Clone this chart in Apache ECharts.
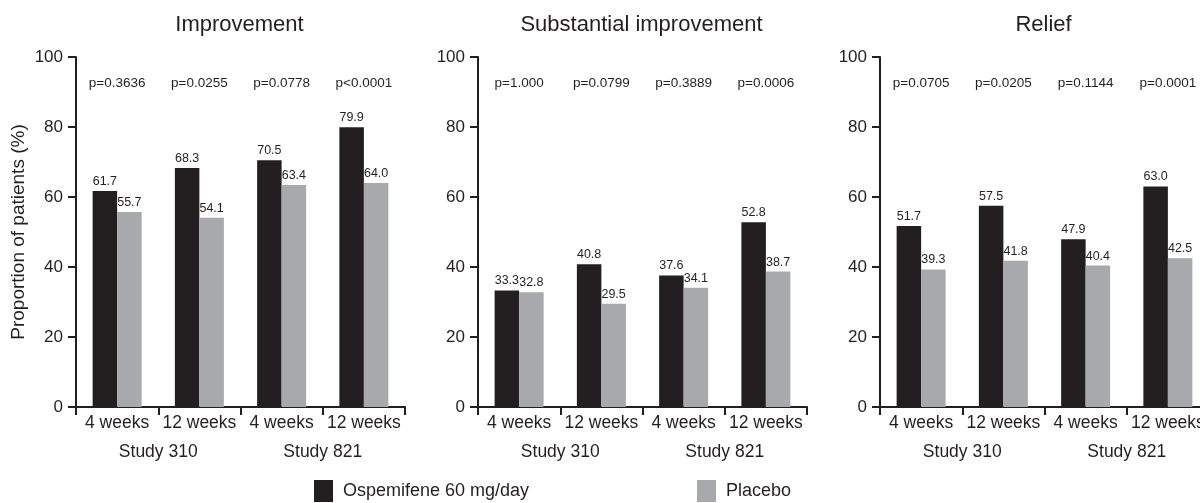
<!DOCTYPE html>
<html>
<head>
<meta charset="utf-8">
<script src="https://cdn.jsdelivr.net/npm/echarts@6/dist/echarts.min.js"></script>
<style>
html,body{margin:0;padding:0;background:#fff;overflow:hidden;}
#chart{width:1215px;height:503px;}
</style>
</head>
<body>
<div id="chart"></div>
<script>
// ---- data ----
const categories = ['4 weeks', '12 weeks', '4 weeks', '12 weeks'];
const studies = ['Study 310', 'Study 821'];
const panelTitles = ['Improvement', 'Substantial improvement', 'Relief'];
const seriesNames = ['Ospemifene 60 mg/day', 'Placebo'];
const ospemifeneImprovement = [61.7, 68.3, 70.5, 79.9];
const placeboImprovement = [55.7, 54.1, 63.4, 64.0];
const ospemifeneSubstantial = [33.3, 40.8, 37.6, 52.8];
const placeboSubstantial = [32.8, 29.5, 34.1, 38.7];
const ospemifeneRelief = [51.7, 57.5, 47.9, 63.0];
const placeboRelief = [39.3, 41.8, 40.4, 42.5];
const pImprovement = ['p=0.3636', 'p=0.0255', 'p=0.0778', 'p<0.0001'];
const pSubstantial = ['p=1.000', 'p=0.0799', 'p=0.3889', 'p=0.0006'];
const pRelief = ['p=0.0705', 'p=0.0205', 'p=0.1144', 'p=0.0001'];
const yTicks = [0, 20, 40, 60, 80, 100];
const yAxisTitle = 'Proportion of patients (%)';

// ---- build ----
const FONT = '"Liberation Sans", Arial, sans-serif';
const INK = '#231f20';
const GREY = '#a7a9ac';
const panels = [
  {title: panelTitles[0], a: ospemifeneImprovement, b: placeboImprovement, p: pImprovement},
  {title: panelTitles[1], a: ospemifeneSubstantial, b: placeboSubstantial, p: pSubstantial},
  {title: panelTitles[2], a: ospemifeneRelief, b: placeboRelief, p: pRelief}
];
const lefts = [76, 478, 880];
const W = 329;

const grid = [], xAxis = [], yAxis = [], series = [], title = [];
panels.forEach((pn, i) => {
  grid.push({left: lefts[i], top: 57, width: W, height: 350});
  title.push({
    text: pn.title, left: lefts[i] + W / 2 - 1, top: 14, textAlign: 'center', padding: 0,
    textStyle: {fontFamily: FONT, fontSize: 22, fontWeight: 'normal', color: INK}
  });
  xAxis.push({
    type: 'category', gridIndex: i, data: categories, position: 'bottom',
    axisLine: {lineStyle: {color: INK, width: 2}},
    axisTick: {show: true, length: 8, lineStyle: {color: INK, width: 2}},
    axisLabel: {fontFamily: FONT, fontSize: 17.5, color: INK, margin: 7, interval: 0}
  });
  xAxis.push({
    type: 'category', gridIndex: i, data: studies, position: 'bottom', offset: 29,
    axisLine: {show: false}, axisTick: {show: false},
    axisLabel: {fontFamily: FONT, fontSize: 17.5, color: INK, margin: 7, interval: 0}
  });
  xAxis.push({
    type: 'category', gridIndex: i, data: pn.p, position: 'top',
    axisLine: {show: false}, axisTick: {show: false},
    axisLabel: {inside: true, fontFamily: FONT, fontSize: 13.5, color: INK, margin: 19, interval: 0}
  });
  yAxis.push({
    type: 'value', gridIndex: i, min: yTicks[0], max: yTicks[yTicks.length - 1], interval: yTicks[1] - yTicks[0],
    splitLine: {show: false},
    axisLine: {show: true, lineStyle: {color: INK, width: 2}},
    axisTick: {show: true, length: 8, lineStyle: {color: INK, width: 2}},
    axisLabel: {fontFamily: FONT, fontSize: 17, color: INK, margin: 13},
    name: i === 0 ? yAxisTitle : '',
    nameLocation: 'middle', nameGap: 48, nameRotate: 90,
    nameTextStyle: {fontFamily: FONT, fontSize: 19, color: INK}
  });
  [pn.a, pn.b].forEach((vals, k) => {
    series.push({
      type: 'bar', name: seriesNames[k], data: vals,
      xAxisIndex: 3 * i, yAxisIndex: i,
      barWidth: 24.5, barGap: '0%',
      itemStyle: {color: k === 0 ? INK : GREY},
      label: {
        show: true, position: 'top', distance: 3,
        fontFamily: FONT, fontSize: 12.5, color: INK,
        formatter: p => Number(p.value).toFixed(1)
      },
      animation: false
    });
  });
});

const legendBase = {
  orient: 'horizontal', top: 480, itemWidth: 19, itemHeight: 22, icon: 'rect', padding: 0,
  textStyle: {fontFamily: FONT, fontSize: 18, color: INK, padding: [0, 0, 0, 5]},
  selectedMode: false
};
const option = {
  backgroundColor: '#fff',
  animation: false,
  title, grid, xAxis, yAxis, series,
  legend: [
    Object.assign({}, legendBase, {left: 314, data: [seriesNames[0]]}),
    Object.assign({}, legendBase, {left: 697, data: [seriesNames[1]]})
  ]
};
const chart = echarts.init(document.getElementById('chart'), null, {renderer: 'canvas'});
chart.setOption(option);
</script>
</body>
</html>
